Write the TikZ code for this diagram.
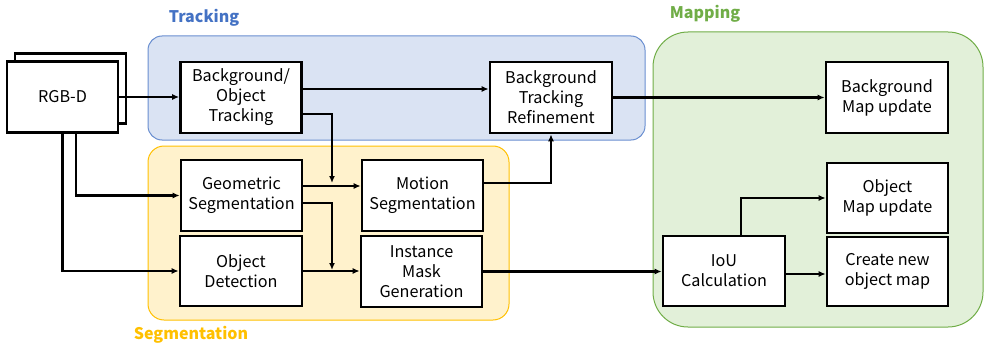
\documentclass[tikz,border=0pt]{standalone}
\usepackage{fontspec}
\setmainfont{Noto Sans CJK JP}
\usetikzlibrary{arrows.meta}
\definecolor{trkfill}{HTML}{DAE3F3}
\definecolor{trkline}{HTML}{4472C4}
\definecolor{segfill}{HTML}{FFF2CC}
\definecolor{segline}{HTML}{FFC000}
\definecolor{mapfill}{HTML}{E2F0D9}
\definecolor{mapline}{HTML}{70AD47}
\begin{document}
\begin{tikzpicture}[x=1pt,y=-1pt,
  blk/.style={draw=black,line width=2.6pt,fill=white,inner sep=0pt,align=center,
    font=\fontsize{16.2}{20}\selectfont},
  conn/.style={line width=2.2pt,-{Latex[length=7pt,width=6pt]}},
  ttl/.style={font=\fontsize{16}{18}\selectfont\bfseries}]
\useasboundingbox (0,0) rectangle (988,345);
% regions
\draw[fill=trkfill,draw=trkline!80,line width=1pt,rounded corners=14pt] (148,36) rectangle (645,140);
\draw[fill=segfill,draw=segline,line width=1pt,rounded corners=16pt] (148,146) rectangle (509,320);
\draw[fill=mapfill,draw=mapline,line width=1pt,rounded corners=35pt] (653,32) rectangle (983,327);
\node[ttl,text=trkline] (tt) at (204,18) {Tracking};
\node[ttl,text=segline] (st) at (191,335) {Segmentation};
\node[ttl,text=mapline] (mt) at (705,14) {Mapping};
% boxes
\node[blk,minimum width=111pt,minimum height=70pt] (rgbb) at (70.5,88.5) {};
\node[blk,minimum width=111pt,minimum height=71pt] (rgb) at (62.5,97) {RGB-D};
\node[blk,minimum width=121pt,minimum height=71pt] (bot) at (241,97.5) {Background/\\Object\\Tracking};
\node[blk,minimum width=122pt,minimum height=71pt] (btr) at (551,97.5) {Background\\Tracking\\Refinement};
\node[blk,minimum width=121pt,minimum height=71pt] (gs) at (241.5,195.5) {Geometric\\Segmentation};
\node[blk,minimum width=122pt,minimum height=70pt] (od) at (241,271) {Object\\Detection};
\node[blk,minimum width=121pt,minimum height=71pt] (ms) at (422.5,195.5) {Motion\\Segmentation};
\node[blk,minimum width=121pt,minimum height=71pt] (img) at (421.5,271.5) {Instance\\Mask\\Generation};
\node[blk,minimum width=122pt,minimum height=71pt] (bmu) at (887,97.5) {Background\\Map update};
\node[blk,minimum width=121pt,minimum height=70pt] (omu) at (887.5,198) {Object\\Map update};
\node[blk,minimum width=121pt,minimum height=69pt] (cnom) at (887.5,271.5) {Create new\\object map};
\node[blk,minimum width=122pt,minimum height=70pt] (iou) at (724,271) {IoU\\Calculation};
\coordinate (j1) at (332,183);
\coordinate (j2) at (332,270);
% connectors
\draw[conn] (rgb.east) -- (rgb.east -| bot.west);
\draw[conn] ([xshift=13.5pt]rgb.south) |- (gs.west);
\draw[conn] (rgb.south) |- (od.west);
\draw[conn] ([yshift=8.5pt]bot.east) -- ([yshift=8.5pt]btr.west);
\draw[conn] ([yshift=-16.5pt]bot.east) -| (j1);
\draw[conn] ([yshift=9.5pt]gs.east) -- ([yshift=9.5pt]ms.west);
\draw[conn] ([yshift=-7.5pt]gs.east) -| (j2);
\draw[conn] (od.east) -- (od.east -| img.west);
\draw[conn] ([yshift=12.5pt]ms.east) -| (btr.south);
\draw[conn] (btr.east) -- (btr.east -| bmu.west);
\draw[conn] (img.east) -- (img.east -| iou.west);
\draw[conn] ([xshift=17pt]iou.north) |- (omu.west);
\draw[conn] ([yshift=-3pt]iou.east) -- ([yshift=-3pt]iou.east -| cnom.west);
\end{tikzpicture}
\end{document}
